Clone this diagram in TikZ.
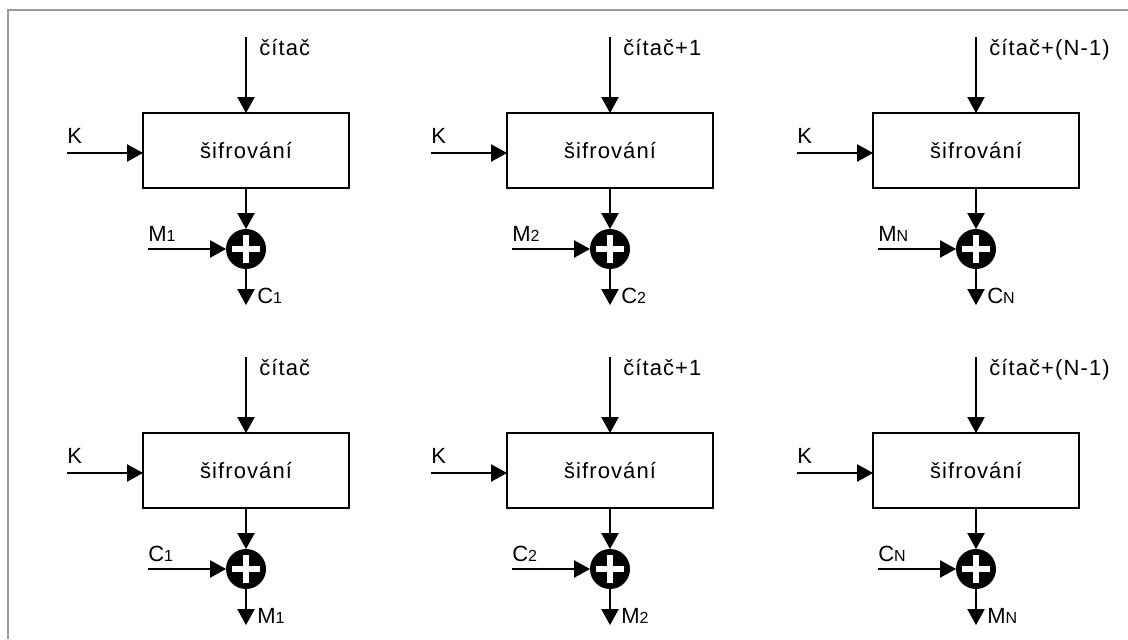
\documentclass[tikz,border=0pt]{standalone}
\usepackage{fontspec}
\setmainfont{Liberation Sans}[LetterSpace=5]
\usetikzlibrary{arrows.meta}
\newcommand{\smallidx}[1]{{\fontsize{12}{12}\selectfont #1}}

\begin{document}
\begin{tikzpicture}[x=0.75pt,y=-0.75pt,
	font=\fontsize{16.5}{19}\selectfont,
	>={Triangle[width=13pt,length=12pt]},
	wire/.style={line width=1pt,->},
	cipher/.style={draw,line width=0.9pt,minimum width=154.5pt,minimum height=56.25pt,inner sep=0pt,outer sep=0pt},
	xorop/.style={circle,fill=black,minimum size=30pt,inner sep=0pt,outer sep=0pt},
	lbl/.style={anchor=base west,inner sep=0pt}]
	\useasboundingbox (0,0) rectangle (1128,639);
	\draw[black!40,line width=1.5pt] (8,639) -- (8,10) -- (1128,10);
	% top row encrypts, bottom row decrypts
	\foreach \cx/\ctr/\ix [count=\cn] in {246/čítač/1,610/čítač+1/2,976/čítač+(N-1)/N}
	\foreach \ry/\inp/\outp [count=\rn] in {0/M/C,320/C/M}{
		\node[cipher] (enc\cn\rn) at (\cx,150.5+\ry) {šifrování};
		\node[xorop] (xor\cn\rn) at (\cx,249+\ry) {};
		\draw[white,line width=5pt] ([xshift=-10.5pt]xor\cn\rn.center) -- ([xshift=10.5pt]xor\cn\rn.center)
			([yshift=-10.5pt]xor\cn\rn.center) -- ([yshift=10.5pt]xor\cn\rn.center);
		\coordinate (ctr\cn\rn) at (\cx,37+\ry);
		\coordinate (key\cn\rn) at (\cx-179,153+\ry);
		\coordinate (in\cn\rn) at (\cx-98,249+\ry);
		\coordinate (out\cn\rn) at (\cx,305+\ry);
		\draw[wire] (ctr\cn\rn) -- (enc\cn\rn);
		\draw[wire] (key\cn\rn) -- (key\cn\rn -| enc\cn\rn.west);
		\draw[wire] (enc\cn\rn) -- (xor\cn\rn);
		\draw[wire] (in\cn\rn) -- (xor\cn\rn);
		\draw[wire] (xor\cn\rn) -- (out\cn\rn);
		\node[lbl] (ctrlbl\cn\rn) at (\cx+13,55+\ry) {\ctr};
		\node[lbl] (keylbl\cn\rn) at (\cx-179,143+\ry) {K};
		\node[lbl] (inlbl\cn\rn) at (\cx-98,241+\ry) {\inp\smallidx{\ix}};
		\node[lbl] (outlbl\cn\rn) at (\cx+11,303+\ry) {\outp\smallidx{\ix}};
	}
\end{tikzpicture}
\end{document}
